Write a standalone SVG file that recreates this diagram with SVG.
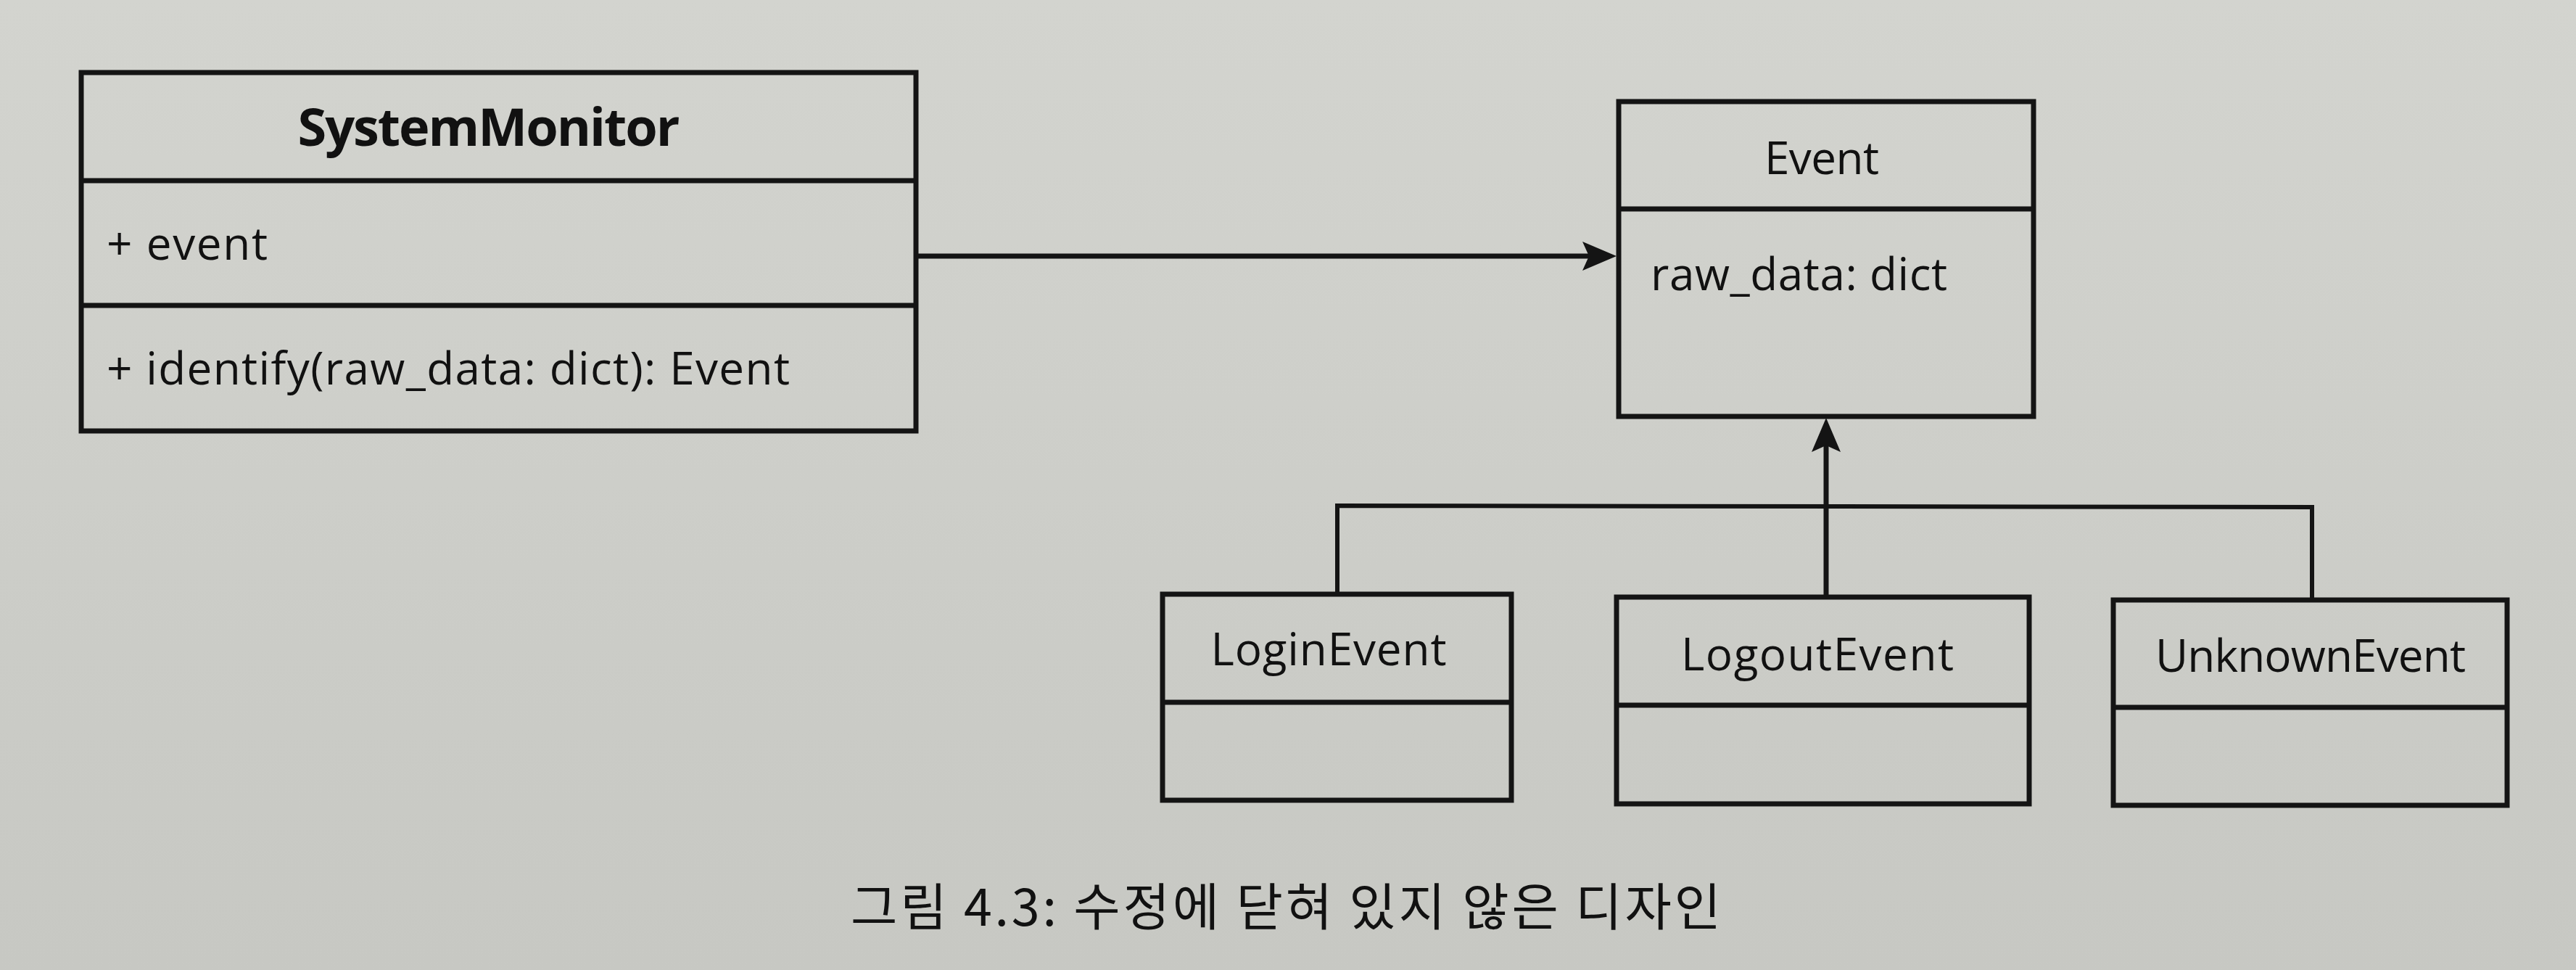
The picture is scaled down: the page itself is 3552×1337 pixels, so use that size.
<svg xmlns="http://www.w3.org/2000/svg" width="3552" height="1337" viewBox="0 0 3552 1337">
  <style>
    .box { fill: none; stroke: #141414; stroke-width: 7; }
    .div { stroke: #141414; stroke-width: 7; }
    .conn { fill: none; stroke: #141414; stroke-width: 7; }
    .bus { fill: none; stroke: #141414; stroke-width: 6; }
    .t { font-family: "Open Sans", "Noto Sans", "DejaVu Sans", sans-serif; font-size: 62px; fill: #111; }
    .title { font-family: "Open Sans", "Noto Sans", "DejaVu Sans", sans-serif; font-size: 72px; font-weight: bold; fill: #111; }
    .cap { font-family: "Noto Sans CJK KR", "Noto Sans", sans-serif; font-size: 70px; fill: #111; }
  </style>
  <defs>
    <linearGradient id="bg" x1="0" y1="0" x2="0" y2="1">
      <stop offset="0" stop-color="#d3d4cf"/>
      <stop offset="1" stop-color="#c7c8c3"/>
    </linearGradient>
    <marker id="arrow" viewBox="0 -20 47 40" refX="9" refY="0" markerWidth="47" markerHeight="40" markerUnits="userSpaceOnUse" orient="auto">
      <path d="M0,-20 L47,0 L0,20 L9,0 Z" fill="#141414"/>
    </marker>
  </defs>
  <rect x="0" y="0" width="3552" height="1337" fill="url(#bg)"/>

  <g id="connectors">
    <line class="conn" x1="1263" y1="353" x2="2191" y2="353" marker-end="url(#arrow)"/>
    <path class="bus" d="M1844,819 L1844,697 L3188,699 L3188,827"/>
    <line class="conn" x1="2518" y1="823" x2="2518" y2="614" marker-end="url(#arrow)"/>
  </g>

  <g id="SystemMonitor">
    <rect class="box" x="112" y="100" width="1151" height="494"/>
    <line class="div" x1="112" y1="249" x2="1263" y2="249"/>
    <line class="div" x1="112" y1="421" x2="1263" y2="421"/>
    <text class="title" x="674" y="201" text-anchor="middle" textLength="527">SystemMonitor</text>
    <text class="t" x="147" y="358" textLength="222">+ event</text>
    <text class="t" x="147" y="530" textLength="942">+ identify(raw_data: dict): Event</text>
  </g>

  <g id="Event">
    <rect class="box" x="2232" y="140" width="572" height="434"/>
    <line class="div" x1="2232" y1="288" x2="2804" y2="288"/>
    <text class="t" x="2512" y="240" text-anchor="middle" textLength="158">Event</text>
    <text class="t" x="2276" y="400" textLength="409">raw_data: dict</text>
  </g>

  <g id="LoginEvent">
    <rect class="box" x="1603" y="819" width="481" height="284"/>
    <line class="div" x1="1603" y1="968" x2="2084" y2="968"/>
    <text class="t" x="1832" y="917" text-anchor="middle" textLength="325">LoginEvent</text>
  </g>

  <g id="LogoutEvent">
    <rect class="box" x="2229" y="823" width="569" height="285"/>
    <line class="div" x1="2229" y1="972" x2="2798" y2="972"/>
    <text class="t" x="2506" y="924" text-anchor="middle" textLength="376">LogoutEvent</text>
  </g>

  <g id="UnknownEvent">
    <rect class="box" x="2914" y="827" width="543" height="283"/>
    <line class="div" x1="2914" y1="975" x2="3457" y2="975"/>
    <text class="t" x="3186" y="926" text-anchor="middle" textLength="428">UnknownEvent</text>
  </g>

  <g id="caption">
    <text class="cap" x="1173" y="1276" textLength="1200">그림 4.3: 수정에 닫혀 있지 않은 디자인</text>
  </g>
</svg>
